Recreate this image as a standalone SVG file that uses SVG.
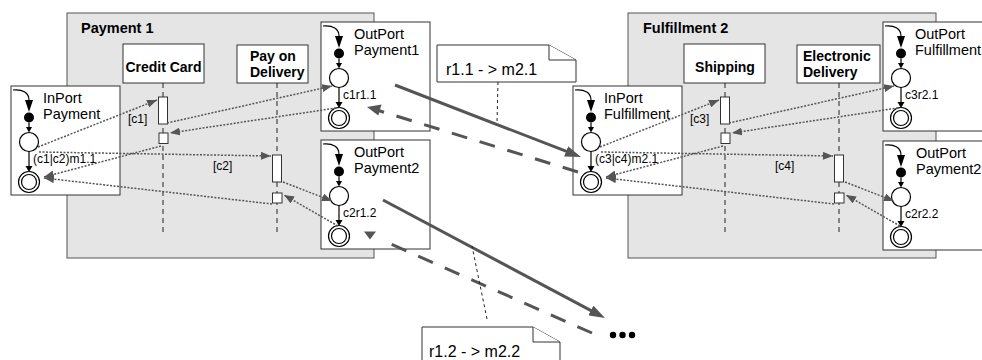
<svg xmlns="http://www.w3.org/2000/svg" width="982" height="360" viewBox="0 0 982 360">
<style>
.grp{fill:#e5e5e5;stroke:#555;stroke-width:1}
.box{fill:#fff;stroke:#333;stroke-width:1}
.life{stroke:#222;stroke-width:1;stroke-dasharray:5 4;fill:none}
.act{fill:#fff;stroke:#333;stroke-width:1}
.ln{stroke:#000;stroke-width:1.2;fill:none}
.blk{fill:#000}
.oc{fill:#fff;stroke:#000;stroke-width:1.2}
.t{font-family:"Liberation Sans",Arial,sans-serif;fill:#000}
.title{font-size:14px;font-weight:bold}
.gt{font-size:14.5px;font-weight:bold}
.port{font-size:14.5px}
.ntxt{font-size:16px}
.lbl{font-size:12px}
.note{fill:#fff;stroke:#333;stroke-width:1}
.lead{stroke:#222;stroke-width:1;stroke-dasharray:3 3;fill:none}
.dot{stroke:#555;stroke-width:1.5;stroke-dasharray:2 1.5;fill:none;marker-end:url(#ah)}
.thick{stroke:#555;stroke-width:3;fill:none;marker-end:url(#big)}
.dsh{stroke:#555;stroke-width:3;fill:none;stroke-dasharray:16 13}
</style>
<defs>
<marker id="ah" markerUnits="userSpaceOnUse" markerWidth="10" markerHeight="8" refX="10" refY="4" orient="auto"><path d="M0,0 L10,4 L0,8 z" fill="#555"/></marker>
<marker id="big" markerUnits="userSpaceOnUse" markerWidth="16" markerHeight="11" refX="4" refY="5.5" orient="auto"><path d="M0,0 L16,5.5 L0,11 z" fill="#555"/></marker>
<g id="portShape">
<rect class="box" x="0" y="0" width="109" height="109"/>
<path class="ln" d="M2,4 C12,3 18,7 18,14"/>
<polygon class="blk" points="14,14 22,14 18,26"/>
<circle class="blk" cx="18" cy="31.5" r="5"/>
<line class="ln" x1="18" y1="36.5" x2="18" y2="41"/>
<polygon class="blk" points="15,41 21,41 18,46.5"/>
<circle class="oc" cx="18" cy="56" r="9.5"/>
<line class="ln" x1="18" y1="65.5" x2="18" y2="81"/>
<polygon class="blk" points="14.5,80 21.5,80 18,86"/>
<circle class="oc" cx="18" cy="96" r="10.5"/>
<circle class="oc" cx="18" cy="96" r="7.5"/>
</g>
</defs>

<!-- Payment 1 -->
<g id="payment1">
<rect class="grp" x="67" y="13" width="307" height="245"/>
<text class="t gt" x="81" y="33">Payment 1</text>
</g>
<g id="lane-credit-card">
<rect class="box" x="123" y="44" width="81" height="39"/>
<text class="t title" x="163.5" y="72" text-anchor="middle">Credit Card</text>
<line class="life" x1="163" y1="83" x2="163" y2="232"/>
<rect class="act" x="158.5" y="97" width="9" height="27"/>
<rect class="act" x="159" y="133" width="9" height="10.5"/>
</g>
<g id="lane-pay-on-delivery">
<rect class="box" x="237" y="45" width="71" height="38"/>
<text class="t title" x="250" y="61">Pay on</text>
<text class="t title" x="250" y="77">Delivery</text>
<line class="life" x1="277" y1="83" x2="277" y2="233"/>
<rect class="act" x="272.5" y="155" width="9" height="27"/>
<rect class="act" x="272.5" y="193" width="9.5" height="10"/>
</g>
<g id="inport-payment" transform="translate(11,86)">
<use href="#portShape"/>
<text class="t port" x="32" y="17">InPort</text>
<text class="t port" x="32" y="33">Payment</text>
<text class="t lbl" x="22" y="77">(c1|c2)m1.1</text>
</g>
<g id="outport-payment1" transform="translate(321,22)">
<use href="#portShape"/>
<text class="t port" x="33" y="17">OutPort</text>
<text class="t port" x="33" y="33">Payment1</text>
<text class="t lbl" x="22" y="77">c1r1.1</text>
</g>
<g id="outport-payment2" transform="translate(321,140)">
<use href="#portShape"/>
<text class="t port" x="33" y="17">OutPort</text>
<text class="t port" x="33" y="33">Payment2</text>
<text class="t lbl" x="22" y="77">c2r1.2</text>
</g>

<!-- Fulfillment 2 -->
<g id="fulfillment2">
<rect class="grp" x="628" y="13" width="308" height="245"/>
<text class="t gt" x="643" y="33">Fulfillment 2</text>
</g>
<g id="lane-shipping">
<rect class="box" x="684" y="44" width="81" height="39"/>
<text class="t title" x="725" y="72" text-anchor="middle">Shipping</text>
<line class="life" x1="725" y1="83" x2="725" y2="232"/>
<rect class="act" x="720.5" y="97" width="9" height="27"/>
<rect class="act" x="721" y="133" width="9" height="10.5"/>
</g>
<g id="lane-electronic-delivery">
<rect class="box" x="797" y="45" width="83" height="38"/>
<text class="t title" x="803" y="61">Electronic</text>
<text class="t title" x="803" y="77">Delivery</text>
<line class="life" x1="839" y1="83" x2="839" y2="233"/>
<rect class="act" x="834.5" y="155" width="9" height="27"/>
<rect class="act" x="834.5" y="193" width="9.5" height="10"/>
</g>
<g id="inport-fulfillment" transform="translate(573,86)">
<use href="#portShape"/>
<text class="t port" x="31" y="17">InPort</text>
<text class="t port" x="31" y="33">Fulfillment</text>
<text class="t lbl" x="22" y="77">(c3|c4)m2.1</text>
</g>
<g id="outport-fulfillment" transform="translate(883,22)">
<use href="#portShape"/>
<text class="t port" x="32" y="17">OutPort</text>
<text class="t port" x="32" y="33">Fulfillment</text>
<text class="t lbl" x="22" y="77">c3r2.1</text>
</g>
<g id="outport-payment2-f" transform="translate(883,141)">
<use href="#portShape"/>
<text class="t port" x="33" y="17">OutPort</text>
<text class="t port" x="33" y="33">Payment2</text>
<text class="t lbl" x="22" y="77">c2r2.2</text>
</g>

<!-- Notes -->
<g id="note-r11">
<path class="note" d="M437,45 L549,45 L576,60 L576,82 L437,82 Z"/>
<polyline class="note" fill="none" points="549,45 549,60 576,60"/>
<text class="t ntxt" x="446" y="75">r1.1 - &gt; m2.1</text>
</g>
<g id="note-r12">
<path class="note" d="M422,327 L533,327 L560,342 L560,366 L422,366 Z"/>
<polyline class="note" fill="none" points="533,327 533,342 560,342"/>
<text class="t ntxt" x="429" y="357">r1.2 - &gt; m2.2</text>
</g>
<g id="more">
<circle cx="613" cy="335" r="3.2" fill="#000"/>
<circle cx="622.5" cy="335" r="3.2" fill="#000"/>
<circle cx="632" cy="335" r="3.2" fill="#000"/>
</g>

<!-- Connectors -->
<g id="connectors">
<text class="t lbl" x="128" y="123">[c1]</text>
<text class="t lbl" x="213" y="170">[c2]</text>
<text class="t lbl" x="690" y="123">[c3]</text>
<text class="t lbl" x="775" y="170">[c4]</text>
<path class="dot" d="M38,147 L157,100"/>
<path class="dot" d="M167,123 L332,86"/>
<path class="dot" d="M336,108 L170,133"/>
<path class="dot" d="M161,146 L44,177"/>
<path class="dot" d="M39,152 L271,156"/>
<path class="dot" d="M283,182 L332,201"/>
<path class="dot" d="M338,226 L284,195"/>
<path class="dot" d="M272,204 L44,178"/>
<path class="dot" d="M600,147 L719,100"/>
<path class="dot" d="M729,123 L894,86"/>
<path class="dot" d="M898,108 L732,133"/>
<path class="dot" d="M723,146 L606,177"/>
<path class="dot" d="M601,152 L833,156"/>
<path class="dot" d="M845,182 L894,201"/>
<path class="dot" d="M900,226 L846,195"/>
<path class="dot" d="M834,204 L606,178"/>
<path class="thick" d="M395,85 L569.8,152.7"/>
<path class="dsh" d="M578,172 L378.5,110.5"/>
<path d="M367,107 L381.5,104.5 L378.3,115.5 Z" fill="#555"/>
<path class="thick" d="M383,200 L594.4,312.4"/>
<path class="dsh" d="M592,333 L384,241"/>
<polygon points="364,231.5 376,231.5 370,239.5" fill="#555"/>
<line class="lead" x1="498" y1="82" x2="497" y2="122"/>
<line class="lead" x1="487" y1="319" x2="472" y2="246"/>
</g>
</svg>
